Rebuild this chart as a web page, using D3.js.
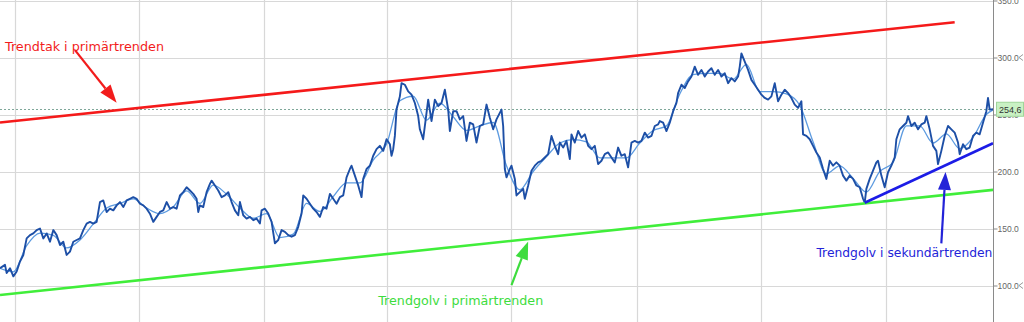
<!DOCTYPE html>
<html><head><meta charset="utf-8">
<script src="https://cdn.jsdelivr.net/npm/d3@7"></script>
<style>html,body{margin:0;padding:0;background:#fff;overflow:hidden}</style>
</head><body>
<svg id="c" width="1024" height="322"></svg>
<script>
// ---- data ----
const price = [[0,115.2],[3,118.1],[4,110.9],[6,115.2],[8,108.0],[10,112.3],[12,121.0],[14,126.8],[16,141.3],[18,144.2],[20,145.7],[22,148.6],[24,150.0],[26,141.3],[28,145.7],[30,138.4],[32,148.6],[34,144.2],[36,135.5],[38,138.4],[40,126.8],[42,129.7],[44,138.4],[46,139.9],[48,141.3],[50,148.6],[52,154.3],[54,155.8],[56,154.3],[58,155.8],[60,173.2],[62,174.6],[64,164.5],[66,167.4],[68,165.9],[70,170.3],[72,173.2],[74,168.8],[76,174.6],[78,176.1],[80,177.5],[82,176.1],[84,171.7],[86,170.3],[88,167.4],[90,163.0],[92,155.8],[94,160.2],
[96,164.5],[98,165.9],[100,173.2],[102,167.4],[104,168.8],[106,167.4],[108,179.0],[110,181.9],[112,186.2],[114,183.3],[116,180.4],[118,176.1],[119,164.5],[120,170.3],[122,168.8],[124,181.9],[126,189.1],[127,192.0],[129,187.7],[131,183.3],[133,177.5],[135,179.0],[137,181.9],[139,173.2],[141,165.9],[143,161.6],[144,173.2],[146,161.6],[148,158.7],[150,160.2],[152,157.3],[154,158.7],[156,154.4],[157,165.9],[159,167.4],[161,163.1],[163,155.8],[165,137.0],[167,139.9],[169,148.6],[171,147.1],[173,144.2],[175,142.8],[177,144.2],[179,151.5],[181,163.1],[182,179.0],[184,176.1],[186,171.7],[188,167.4],[190,164.5],[192,160.2],[194,168.8],[196,167.4],
[198,180.4],[200,176.1],[202,171.7],[204,177.5],[206,179.0],[208,194.9],[210,202.2],[211,205.1],[213,196.4],[215,187.7],[217,177.5],[218,193.5],[220,202.2],[222,205.1],[224,213.8],[226,219.6],[228,222.5],[230,218.1],[232,228.3],[234,223.9],[235,213.8],[236,219.6],[237,231.2],[238,254.3],[240,265.9],[241,277.5],[243,276.1],[245,270.3],[247,267.4],[249,260.1],[251,248.6],[252,237.0],[254,228.3],[256,251.5],[257,263.0],[259,244.2],[261,263.0],[263,257.3],[265,260.1],[267,271.7],[269,254.3],[270,235.5],[272,252.9],[274,252.9],[276,245.7],[278,248.6],[280,226.8],[282,242.8],[284,241.3],[286,225.4],[288,239.9],[290,241.3],[292,258.7],[294,247.1],[296,237.0],[298,245.7],
[300,251.4],[301,254.3],[302,239.9],[303,202.2],[304,194.9],[306,202.2],[307,205.1],[309,193.5],[310,179.0],[312,181.9],[314,184.8],[315,176.1],[317,187.7],[319,200.7],[321,205.1],[323,208.0],[325,209.4],[327,212.3],[329,215.2],[331,231.2],[333,222.5],[335,215.2],[336,225.4],[338,221.0],[340,226.8],[342,210.9],[343,232.6],[345,225.4],[347,235.5],[349,229.7],[351,232.6],[353,222.5],[355,219.6],[357,222.5],[359,206.5],[361,209.4],[363,215.2],[365,216.7],[367,212.3],[369,208.0],[371,221.0],[373,213.8],[375,215.2],[377,203.6],[379,225.4],[381,226.8],[383,225.4],[385,226.8],[387,234.1],[389,229.7],[391,231.2],[393,239.9],[395,241.3],
[396,244.2],[398,242.8],[400,235.5],[402,242.8],[404,252.9],[406,260.2],[407,268.8],[409,276.1],[411,273.2],[413,279.0],[415,283.3],[417,292.0],[419,284.8],[421,289.1],[423,283.3],[425,287.7],[427,290.6],[429,284.8],[431,289.1],[433,283.3],[435,286.2],[437,277.5],[439,281.9],[441,279.0],[443,283.3],[444,292.0],[445,303.6],[447,296.4],[449,289.1],[451,280.4],[453,276.1],[455,271.7],[457,267.4],[459,264.5],[461,263.1],[463,265.9],[465,277.5],[467,261.6],[469,267.4],[471,271.7],[473,268.8],[475,264.5],[477,258.7],[479,255.8],[481,261.6],[482,232.6],[484,231.2],[486,228.3],[488,222.5],[490,216.7],[492,212.3],[494,202.2],[496,193.5],
[498,209.4],[500,205.1],[502,208.0],[504,205.1],[506,196.4],[508,192.0],[510,196.4],[512,193.5],[514,187.7],[516,186.2],[518,176.1],[519,172.6],[520,184.8],[522,193.5],[524,200.7],[526,208.0],[527,209.4],[529,196.4],[531,186.2],[533,199.3],[535,205.1],[537,212.3],[538,228.3],[540,237.0],[542,239.9],[544,242.8],[545,248.6],[547,239.9],[549,242.8],[551,237.0],[553,241.3],[555,242.8],[556,248.6],[558,237.0],[560,222.5],[562,218.1],[563,206.5],[565,218.1],[567,231.2],[569,239.9],[571,237.0],[573,234.1],[575,225.4],[576,215.2],[578,223.9],[580,219.6],[582,221.0],[584,231.2],[586,234.1],[588,232.6],[590,242.8],[592,252.9],[593,264.5],[594,254.3],[596,254.6]];

const smooth = [[0,115],[8,112],[16,135],[24,146],[32,144],[40,133],[48,140],[56,154],[64,168],[72,172],[80,176],[88,168],[96,163],[104,169],[112,183],[120,172],[128,188],[136,180],[144,168],[152,159],[160,163],[168,142],[176,145],[184,172],[192,165],[200,178],[208,190],[216,190],[224,210],[232,224],[240,262],[248,266],[256,245],[264,260],[272,248],[280,236],[288,240],[296,243],[304,205],[312,184],[320,200],[328,213],[336,225],[344,228],[352,226],[360,212],[368,212],[376,212],[384,225],[392,236],[400,240],[408,268],[416,285],[424,286],[432,286],[440,281],[448,294],[456,270],[464,270],[472,268],[480,258],[488,226],[496,198],[504,205],[512,194],[520,182],[528,200],[536,208],[544,240],[552,240],[560,225],[568,233],[576,220],[584,230],[592,250],[596,254]];

const lastPrice = 254.6;
const lastLabel = "254,6";
const yTicks = [350, 300, 250, 200, 150, 100];
const redTrend = [[0, 243.0], [573, 330.9]];
const greenTrend = [[0, 91.7], [596, 183.9]];
const blueTrend = [[519, 172.6], [596, 224.8]];
const labels = [
  {text: "Trendtak i primärtrenden", t: 3, v: 305.5, color: "#f21c1c", len: 159},
  {text: "Trendgolv i primärtrenden", t: 227, v: 83.0, color: "#3ddc3d", len: 165},
  {text: "Trendgolv i sekundärtrenden", t: 490, v: 125.4, color: "#2323d8", len: 176}
];
const arrows = [
  {from: [45, 306.5], to: [70, 260.4], color: "#f21c1c"},
  {from: [307, 100.4], to: [317, 138.7], color: "#3ddc3d"},
  {from: [565, 137.0], to: [567.5, 199.6], color: "#2323d8"}
];
const gridT = [9, 83.5, 158.3, 232, 307, 382.5, 457, 532];

// ---- chart ----
const W = 1024, H = 322, axisX = 993;
const svg = d3.select("#c");
const x = d3.scaleLinear().domain([0, 596]).range([0, axisX]);
const y = d3.scaleLinear().domain([350, 300]).range([0.5, 57.5]);

svg.append("defs").append("clipPath").attr("id","plot")
  .append("rect").attr("x",0).attr("y",0).attr("width",axisX).attr("height",H);

const g = svg.append("g");
// grid
g.selectAll(".vg").data(gridT).join("line")
  .attr("x1", d => Math.round(x(d)) + 0.5).attr("x2", d => Math.round(x(d)) + 0.5)
  .attr("y1", 0).attr("y2", H).attr("stroke", "#d8d8d8").attr("stroke-width", 1.2);
g.selectAll(".hg").data(yTicks).join("line")
  .attr("x1", 0).attr("x2", axisX)
  .attr("y1", d => Math.round(y(d)) + 0.5).attr("y2", d => Math.round(y(d)) + 0.5)
  .attr("stroke", "#d8d8d8").attr("stroke-width", 1.2);
// last price dashed line
g.append("line").attr("x1", 0).attr("x2", axisX)
  .attr("y1", Math.round(y(lastPrice)) + 0.5).attr("y2", Math.round(y(lastPrice)) + 0.5)
  .attr("stroke", "#7fa89a").attr("stroke-width", 1).attr("stroke-dasharray", "2,2");

const plot = svg.append("g").attr("clip-path", "url(#plot)");
const line = d3.line().x(d => x(d[0])).y(d => y(d[1]));
plot.append("path").datum(smooth).attr("d", line.curve(d3.curveMonotoneX))
  .attr("fill","none").attr("stroke","#5d9be0").attr("stroke-width",1.3);
plot.append("path").datum(price).attr("d", d3.line().x(d => x(d[0])).y(d => y(d[1])))
  .attr("fill","none").attr("stroke","#1d4fa6").attr("stroke-width",1.9).attr("stroke-linejoin","round");

// trend lines
[[redTrend,"#f51a1a"],[greenTrend,"#40ee3a"],[blueTrend,"#1c1ce6"]].forEach(([d,c]) => {
  plot.append("path").datum(d).attr("d", d3.line().x(p => x(p[0])).y(p => y(p[1])))
    .attr("fill","none").attr("stroke",c).attr("stroke-width",2.6);
});

// arrows
arrows.forEach(a => {
  const x1 = x(a.from[0]), y1 = y(a.from[1]), x2 = x(a.to[0]), y2 = y(a.to[1]);
  const ang = Math.atan2(y2 - y1, x2 - x1);
  const hl = 18, hw = 6.5;
  const bx = x2 - hl * Math.cos(ang), by = y2 - hl * Math.sin(ang);
  svg.append("line").attr("x1", x1).attr("y1", y1).attr("x2", bx).attr("y2", by)
    .attr("stroke", a.color).attr("stroke-width", 2.2);
  const px = -Math.sin(ang), py = Math.cos(ang);
  svg.append("path")
    .attr("d", `M${x2},${y2}L${bx + hw*px},${by + hw*py}L${bx - hw*px},${by - hw*py}Z`)
    .attr("fill", a.color);
});

// labels
labels.forEach(l => {
  svg.append("text").attr("x", x(l.t)).attr("y", y(l.v))
    .attr("fill", l.color).attr("font-family", "'Comic Sans MS', 'DejaVu Sans', sans-serif")
    .attr("font-size", 12.5).attr("textLength", l.len).attr("lengthAdjust", "spacingAndGlyphs")
    .text(l.text);
});

// right axis
svg.append("line").attr("x1", axisX + 0.5).attr("x2", axisX + 0.5).attr("y1", 0).attr("y2", H)
  .attr("stroke", "#8a8a8a").attr("stroke-width", 1);
const ax = svg.append("g").attr("transform", `translate(${axisX + 0.5},0)`)
  .call(d3.axisRight(y).tickValues(yTicks).tickSize(4).tickFormat(d3.format(".1f")));
ax.select(".domain").remove();
ax.selectAll(".tick line").attr("stroke", "#888");
ax.selectAll(".tick text").attr("fill", "#666").attr("font-size", 8.5)
  .attr("font-family", "'Liberation Sans', Arial, sans-serif").attr("x", 4);
// small markers at right
[300, 100].forEach(v => {
  svg.append("path").attr("d", `M1023,${y(v)-3}L1019,${y(v)}L1023,${y(v)+3}`)
    .attr("fill","none").attr("stroke","#999").attr("stroke-width",1);
});
// last price label
const ly = y(lastPrice);
svg.append("rect").attr("x", 996.5).attr("y", ly - 7).attr("width", 27).attr("height", 14)
  .attr("fill", "#c9f1c4").attr("stroke", "#9fd59a").attr("stroke-width", 1);
svg.append("text").attr("x", 999).attr("y", ly + 3.5).attr("fill", "#333")
  .attr("font-size", 9).attr("font-family", "'Liberation Sans', Arial, sans-serif").text(lastLabel);
</script>
</body></html>
